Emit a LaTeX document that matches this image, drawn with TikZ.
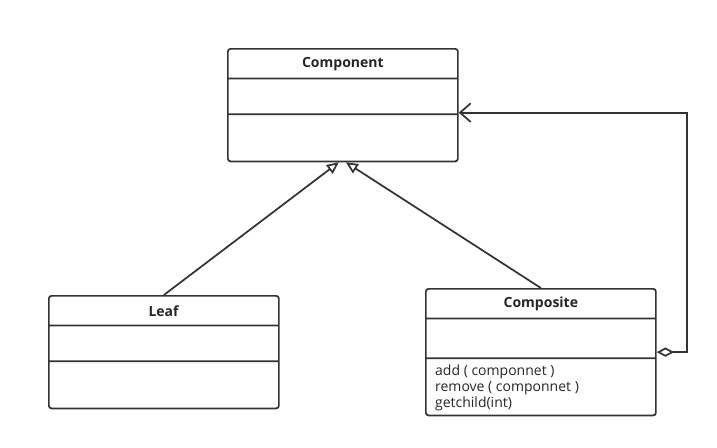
\documentclass[tikz,border=0pt]{standalone}
\usepackage{fontspec}
\setmainfont{Open Sans}
\usetikzlibrary{shapes.multipart, arrows.meta, calc}

\newcommand{\cpart}[3]{\parbox[c][#1pt][c]{172.5pt}{#2#3}}

\begin{document}
\begin{tikzpicture}[x=0.75pt, y=-0.75pt,
    umlclass/.style={rectangle split, rectangle split parts=3, draw=black!80, line width=1.3pt,
        rounded corners=2pt, inner sep=0pt, anchor=north west, text=black!85,
        font=\fontsize{10.5}{12}\selectfont},
    inherit/.style={draw=black!80, line width=1.3pt, -{Triangle[open, length=9pt, width=8pt]}},
    aggregate/.style={draw=black!80, line width=1.3pt, {Diamond[open, length=13pt, width=7pt]}-{Straight Barb[length=8pt, width=14pt]}}]
        \useasboundingbox (0,0) rectangle (717,447);
        % Nodes
        \node[umlclass] (component) at (227,48) {\cpart{21}{\centering}{\textbf{Component}}
            \nodepart{two}\cpart{25.5}{}{}
            \nodepart{three}\cpart{34}{}{}};
        \node[umlclass] (leaf) at (48,295) {\cpart{21}{\centering}{\textbf{Leaf}}
            \nodepart{two}\cpart{25.5}{}{}
            \nodepart{three}\cpart{34}{}{}};
        \node[umlclass] (composite) at (425,288) {\cpart{21}{\centering}{\textbf{Composite}}
            \nodepart{two}\cpart{28.5}{}{}
            \nodepart{three}\cpart{41.5}{\hspace*{7pt}}{\parbox{160pt}{\vspace*{2pt}add ( componnet )\\remove ( componnet )\\getchild(int)}}};
        
        % Edges
        \draw[inherit] (leaf.north) -- ($(component.south)+(-4,0)$);
        \draw[inherit] (composite.north) -- ($(component.south)+(3,0)$);
        \draw[aggregate] (composite.east) -- ++(30,0) |- ($(component.east)+(0,7.5)$);
    \end{tikzpicture}
\end{document}
